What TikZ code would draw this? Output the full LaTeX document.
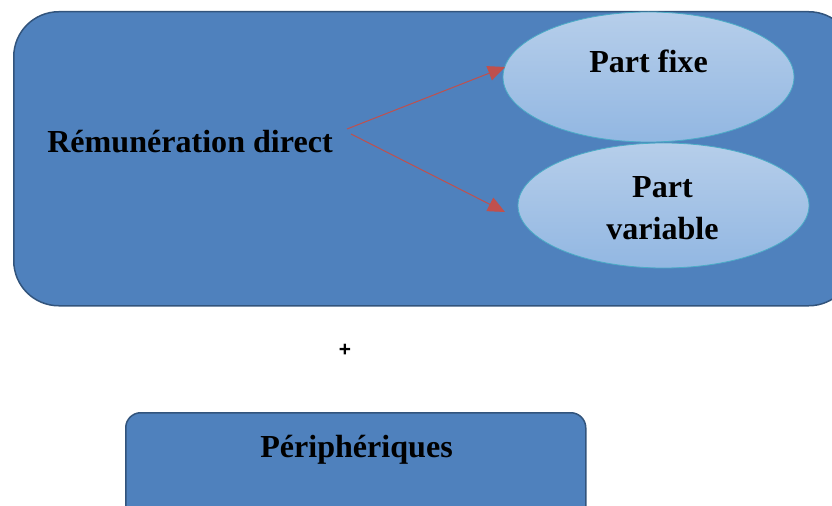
\documentclass[tikz,border=0pt]{standalone}
\usepackage{fontspec}
\setmainfont{Liberation Serif}
\newfontfamily\plusfont{Liberation Sans}
\usetikzlibrary{shapes.geometric,arrows.meta,positioning}
\definecolor{boxblue}{RGB}{79,129,189}
\definecolor{boxedge}{RGB}{50,84,124}
\definecolor{ovaltop}{RGB}{182,206,234}
\definecolor{ovalbot}{RGB}{146,183,226}
\definecolor{ovaledge}{RGB}{75,172,198}
\definecolor{arrowred}{RGB}{192,80,77}

\begin{document}
\begin{tikzpicture}[x=1bp,y=-1bp,
    frame/.style={rectangle,draw=boxedge,fill=boxblue,line width=1.5bp,
                  anchor=north west,inner sep=0pt},
    oval/.style={ellipse,draw=ovaledge,top color=ovaltop,bottom color=ovalbot,
                 line width=0.8bp,minimum width=291bp,inner sep=0pt},
    lbl/.style={font=\fontsize{32.2}{43}\selectfont\bfseries,anchor=base,
                inner sep=0pt,align=center},
    arr/.style={-{Triangle[length=17bp,width=15bp]},arrowred,line width=1bp}
  ]
  \path[use as bounding box,clip] (0,0) rectangle (832,506);

  % remuneration directe
  \node[frame,rounded corners=45bp,minimum width=840bp,minimum height=294bp]
    (direct) at (13,11) {};
  \node[oval,minimum height=130bp] (fixe) at (648.5,77) {};
  \node[oval,minimum height=125bp] (variable) at (663.5,205.5) {};
  \node[lbl] (remun) at (190,153) {Rémunération direct};
  \node[lbl] (fixetxt) at (648.5,73) {Part fixe};
  \node[lbl] (vartxt) at (662.5,240) {Part\\variable};

  \coordinate (from1) at (347,129);
  \coordinate (from2) at (351,134);
  \coordinate (to1) at (505,67);
  \coordinate (to2) at (505,212);
  \draw[arr] (from1)--(to1);
  \draw[arr] (from2)--(to2);

  \node[font=\plusfont\fontsize{21}{21}\selectfont\bfseries] (plus) at (345,350) {+};

  % peripheriques
  \node[frame,rounded corners=15bp,minimum width=460bp,minimum height=120bp]
    (periph) at (125,412) {};
  \node[lbl] (periphtxt) at (356.5,457) {Périphériques};
\end{tikzpicture}
\end{document}
